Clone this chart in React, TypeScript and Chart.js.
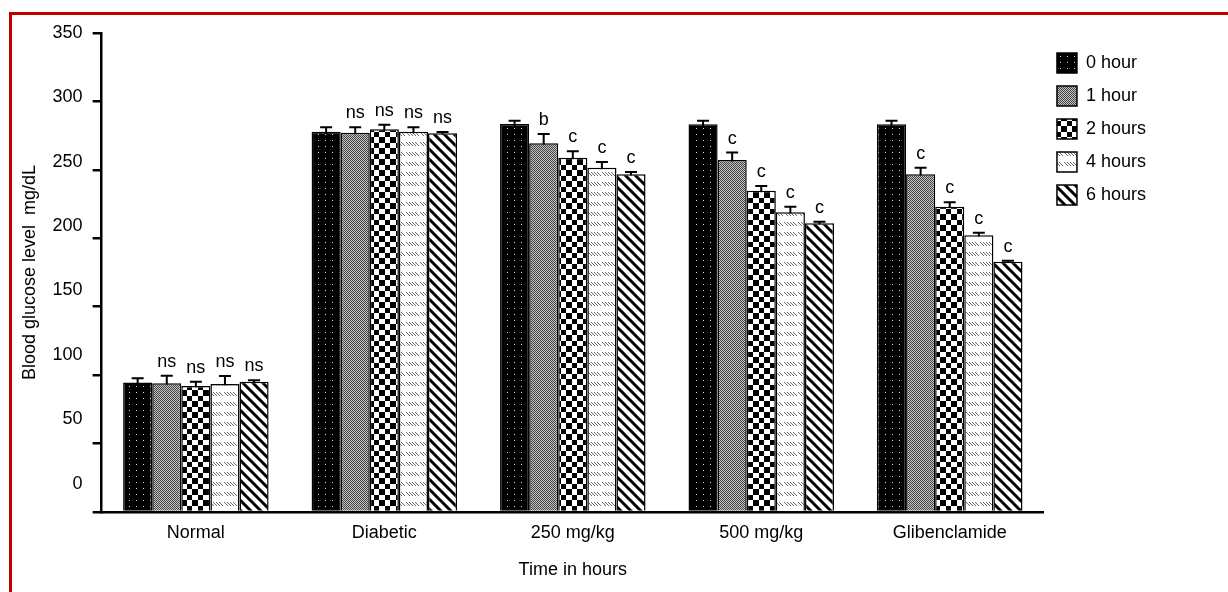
import React, { useEffect, useRef } from 'react';
import { Chart, registerables } from 'chart.js';

Chart.register(...registerables);

const categories = ['Normal', 'Diabetic', '250 mg/kg', '500 mg/kg', 'Glibenclamide'];
const seriesLabels = ['0 hour', '1 hour', '2 hours', '4 hours', '6 hours'];

const hour0 = [94.5, 277.9, 283.5, 283.3, 283.3];
const hour1 = [94.0, 277.1, 269.4, 257.2, 246.7];
const hour2 = [92.1, 279.6, 258.9, 234.8, 223.1];
const hour4 = [93.5, 277.9, 251.6, 219.0, 202.2];
const hour6 = [95.2, 276.7, 246.7, 210.9, 182.9];

const err0 = [3.2, 3.2, 2.4, 2.6, 2.6];
const err1 = [5.5, 4.0, 6.8, 5.4, 4.8];
const err2 = [3.1, 3.4, 4.7, 3.4, 3.2];
const err4 = [5.8, 3.2, 4.2, 4.1, 1.9];
const err6 = [1.0, 1.0, 1.7, 1.2, 0.7];

const sig0 = ['', '', '', '', ''];
const sig1 = ['ns', 'ns', 'b', 'c', 'c'];
const sig2 = ['ns', 'ns', 'c', 'c', 'c'];
const sig4 = ['ns', 'ns', 'c', 'c', 'c'];
const sig6 = ['ns', 'ns', 'c', 'c', 'c'];

const yTicks = [0, 50, 100, 150, 200, 250, 300, 350];

const values = [hour0, hour1, hour2, hour4, hour6];
const errors = [err0, err1, err2, err4, err6];
const letters = [sig0, sig1, sig2, sig4, sig6];

const FONT = 'Arial, "Liberation Sans", Helvetica, sans-serif';

function tile(w: number, h: number, draw: (g: CanvasRenderingContext2D) => void): CanvasPattern {
  const c = document.createElement('canvas');
  c.width = w;
  c.height = h;
  const g = c.getContext('2d')!;
  draw(g);
  return g.createPattern(c, 'repeat')!;
}

function makePatterns(): CanvasPattern[] {
  const p0 = tile(7, 6, (g) => {
    g.fillStyle = '#000';
    g.fillRect(0, 0, 7, 6);
    g.fillStyle = '#d8d8d8';
    g.fillRect(3, 2, 1, 1);
  });
  const p1 = tile(2, 2, (g) => {
    g.fillStyle = '#c4c4c4';
    g.fillRect(0, 0, 2, 2);
    g.fillStyle = '#444';
    g.fillRect(0, 0, 1, 1);
    g.fillRect(1, 1, 1, 1);
  });
  const p2 = tile(11, 11, (g) => {
    g.fillStyle = '#fff';
    g.fillRect(0, 0, 11, 11);
    g.fillStyle = '#000';
    g.fillRect(0, 0, 5, 5);
    g.fillRect(5, 5, 6, 6);
  });
  const p4 = tile(14, 10, (g) => {
    g.fillStyle = '#fff';
    g.fillRect(0, 0, 14, 10);
    g.fillStyle = '#6a6a6a';
    for (const k of [0, 3, 6, 9]) {
      for (let t = 0; t < 4; t++) g.fillRect(k + t, 2 + t, 1, 1);
    }
  });
  const p6 = tile(10, 10, (g) => {
    g.fillStyle = '#fff';
    g.fillRect(0, 0, 10, 10);
    g.strokeStyle = '#000';
    g.lineWidth = 3;
    g.beginPath();
    for (const o of [-10, 0, 10]) {
      g.moveTo(o - 3, -3);
      g.lineTo(o + 13, 13);
    }
    g.stroke();
  });
  return [p0, p1, p2, p4, p6];
}

const errorPlugin = {
  id: 'errorBarsAndLetters',
  beforeDatasetsDraw(chart: any) {
    const ctx = chart.ctx;
    const yScale = chart.scales.y;
    ctx.save();
    ctx.strokeStyle = '#000';
    ctx.lineWidth = 2;
    chart.data.datasets.forEach((ds: any, i: number) => {
      const meta = chart.getDatasetMeta(i);
      meta.data.forEach((el: any, j: number) => {
        const v = values[i][j];
        const e = errors[i][j];
        const yTop = yScale.getPixelForValue(v + e);
        const yBot = yScale.getPixelForValue(v - e);
        ctx.beginPath();
        ctx.moveTo(el.x, yBot);
        ctx.lineTo(el.x, yTop);
        ctx.moveTo(el.x - 6, yTop);
        ctx.lineTo(el.x + 6, yTop);
        ctx.stroke();
      });
    });
    ctx.restore();
  },
  afterDatasetsDraw(chart: any) {
    const ctx = chart.ctx;
    const yScale = chart.scales.y;
    ctx.save();
    ctx.fillStyle = '#000';
    ctx.font = `18px ${FONT}`;
    ctx.textAlign = 'center';
    ctx.textBaseline = 'alphabetic';
    chart.data.datasets.forEach((ds: any, i: number) => {
      const meta = chart.getDatasetMeta(i);
      meta.data.forEach((el: any, j: number) => {
        const txt = letters[i][j];
        if (!txt) return;
        const yTop = yScale.getPixelForValue(values[i][j] + errors[i][j]);
        ctx.fillText(txt, el.x, yTop - 9);
      });
    });
    ctx.restore();
  },
};

export default function App() {
  const canvasRef = useRef<HTMLCanvasElement | null>(null);

  useEffect(() => {
    const canvas = canvasRef.current;
    if (!canvas) return;
    Chart.defaults.font.family = FONT;
    Chart.defaults.color = '#000';
    const patterns = makePatterns();
    const datasets = values.map((vals, i) => ({
      label: seriesLabels[i],
      data: vals,
      backgroundColor: patterns[i],
      borderColor: '#000',
      borderWidth: 1.5,
      categoryPercentage: 0.772,
      barPercentage: 1,
      xAxisID: 'x',
      yAxisID: 'y',
    }));

    const chart = new Chart(canvas, {
      type: 'bar',
      data: { labels: categories, datasets },
      options: {
        animation: false,
        responsive: false,
        devicePixelRatio: 1,
        events: [],
        layout: { padding: { left: 19, top: 33, right: 72, bottom: 11.5 } },
        scales: {
          x: {
            type: 'category',
            grid: { display: false, drawTicks: false },
            border: { display: true, color: '#000', width: 2.5 },
            ticks: { color: '#000', font: { size: 18 }, padding: 10.5, maxRotation: 0, autoSkip: false },
            title: {
              display: true,
              text: 'Time in hours',
              color: '#000',
              font: { size: 18 },
              padding: { top: 4.4, bottom: 0 },
            },
          },
          y: {
            type: 'linear',
            position: 'left',
            weight: 0,
            min: 0,
            max: 350,
            ticks: { display: false, stepSize: 50 },
            grid: {
              display: true,
              drawOnChartArea: false,
              drawTicks: true,
              tickLength: 9,
              color: '#000',
              lineWidth: 2.5,
            },
            border: { display: true, color: '#000', width: 2.5 },
          },
          y2: {
            type: 'linear',
            position: 'left',
            weight: 10,
            min: -22,
            max: 350,
            bounds: 'data',
            afterBuildTicks: (scale: any) => {
              scale.ticks = yTicks.map((v) => ({ value: v }));
            },
            ticks: { color: '#000', font: { size: 18 }, padding: 10 },
            grid: { display: false, drawTicks: false },
            border: { display: false },
            title: {
              display: true,
              text: 'Blood glucose level  mg/dL',
              color: '#000',
              font: { size: 18 },
              padding: { top: 0, bottom: 2 },
            },
          },
        },
        plugins: {
          legend: {
            position: 'right',
            align: 'start',
            title: { display: true, text: '', padding: 0, font: { size: 7, lineHeight: 1 } },
            labels: {
              boxWidth: 20,
              boxHeight: 20,
              padding: 13,
              color: '#000',
              font: { size: 18 },
            },
          },
          tooltip: { enabled: false },
        },
      } as any,
      plugins: [errorPlugin],
    });

    return () => chart.destroy();
  }, []);

  return (
    <div style={{ position: 'fixed', left: 0, top: 0, width: 1228, height: 592, background: '#fff', overflow: 'hidden' }}>
      <div
        style={{
          position: 'absolute',
          left: 9,
          top: 12,
          right: 0,
          bottom: 0,
          borderTop: '3px solid #c00000',
          borderLeft: '3px solid #c00000',
        }}
      />
      <canvas
        ref={canvasRef}
        width={1228}
        height={592}
        style={{ position: 'absolute', left: 0, top: 0, width: 1228, height: 592 }}
      />
    </div>
  );
}
